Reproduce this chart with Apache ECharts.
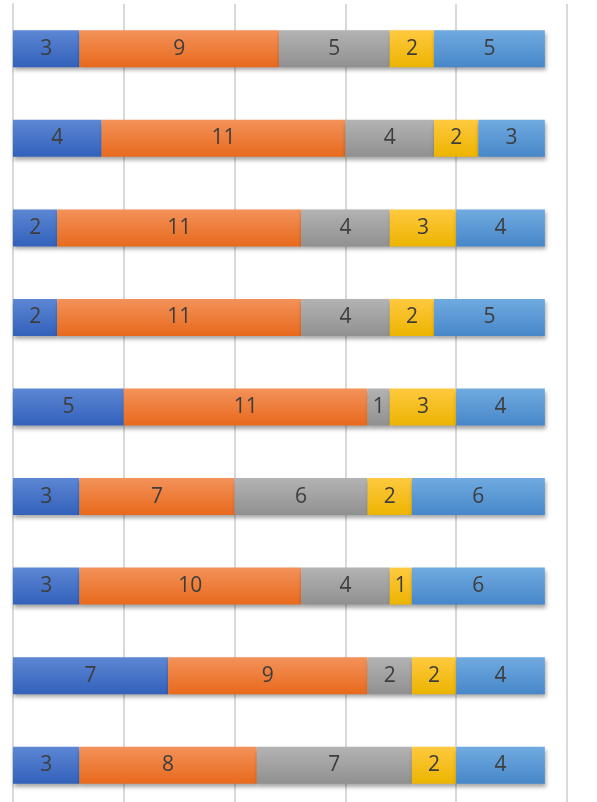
<!DOCTYPE html>
<html>
<head>
  <meta charset="utf-8">
  <title>Stacked bars</title>
</head>
<body style="margin: 0; width: 597px; height: 802px; background: #fff;">
  <div id="container" style="width: 597px; height: 802px;"></div>

  <script type="text/javascript" src="https://cdn.jsdelivr.net/npm/echarts@6/dist/echarts.min.js"></script>
  <script type="text/javascript">
    // rows, top to bottom
    var categories = ['r1', 'r2', 'r3', 'r4', 'r5', 'r6', 'r7', 'r8', 'r9'];
    var s1 = [3, 4, 2, 2, 5, 3, 3, 7, 3];
    var s2 = [9, 11, 11, 11, 11, 7, 10, 9, 8];
    var s3 = [5, 4, 4, 4, 1, 6, 4, 2, 7];
    var s4 = [2, 2, 3, 2, 3, 2, 1, 2, 2];
    var s5 = [5, 3, 4, 5, 4, 6, 6, 4, 4];

    var seriesData = [s1, s2, s3, s4, s5];
    // [top colour, bottom colour]
    var colours = [
      ['#5d87d4', '#3261bb'],
      ['#f3925a', '#e8691c'],
      ['#b3b3b3', '#909090'],
      ['#ffc940', '#ecb400'],
      ['#70aae0', '#4787c9']
    ];

    var chart = echarts.init(document.getElementById('container'), null, { renderer: 'canvas' });

    var series = seriesData.map(function (vals, i) {
      return {
        type: 'bar',
        stack: 'all',
        barWidth: 37,
        data: vals,
        itemStyle: {
          color: new echarts.graphic.LinearGradient(0, 0, 0, 1, [
            { offset: 0, color: colours[i][0] },
            { offset: 1, color: colours[i][1] }
          ]),
          shadowColor: 'rgba(0,0,0,0.35)',
          shadowBlur: 4,
          shadowOffsetY: 3,
          shadowOffsetX: 1
        },
        label: {
          show: true,
          position: 'inside',
          color: '#3d3d3d',
          fontSize: 21,
          fontFamily: 'Open Sans'
        }
      };
    });

    chart.setOption({
      animation: false,
      grid: { left: 13, right: 30, top: 4, height: 806, containLabel: false, outerBoundsMode: 'none' },
      xAxis: {
        type: 'value',
        min: 0,
        max: 25,
        interval: 5,
        axisLabel: { show: false },
        axisLine: { show: false },
        axisTick: { show: false },
        splitLine: { lineStyle: { color: '#d9d9d9', width: 2 } }
      },
      yAxis: {
        type: 'category',
        inverse: true,
        data: categories,
        axisLabel: { show: false },
        axisTick: { show: false },
        axisLine: { show: true, lineStyle: { color: '#d9d9d9', width: 2 } }
      },
      series: series
    });
  </script>
</body>
</html>
